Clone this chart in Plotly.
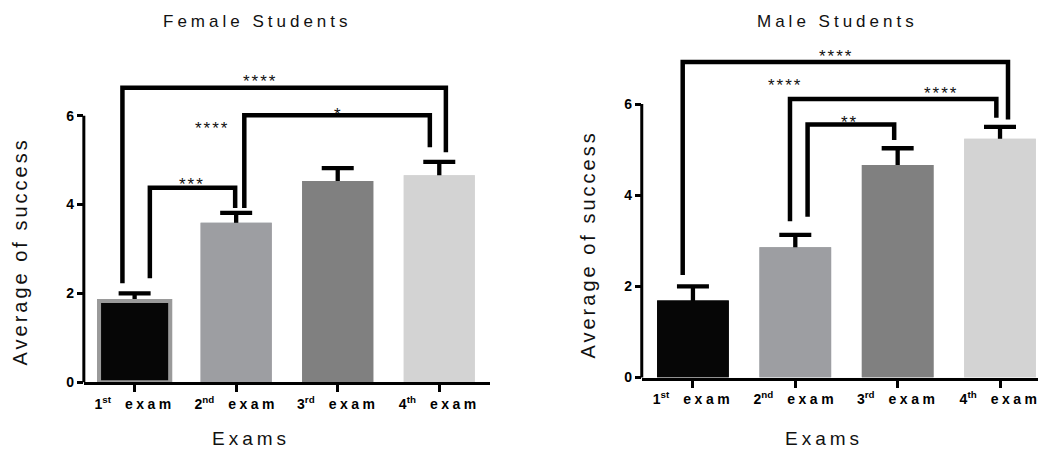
import plotly.graph_objects as go

# ---- data -------------------------------------------------------------
exam_pos = [0, 1, 2, 3]
exam_ordinals = [("1", "st"), ("2", "nd"), ("3", "rd"), ("4", "th")]

female_mean = [1.83, 3.59, 4.53, 4.66]
female_sem = [0.17, 0.22, 0.29, 0.30]
male_mean = [1.69, 2.86, 4.66, 5.24]
male_sem = [0.31, 0.27, 0.37, 0.26]

bar_colors = ["#060606", "#9d9ea2", "#808080", "#d3d3d3"]
female_edge_colors = ["#9a9a9a", "#9d9ea2", "#808080", "#d3d3d3"]
female_edge_widths = [4, 0, 0, 0]

y_ticks = [0, 2, 4, 6]

# significance brackets: x_left, x_right, y_left_end, y_top, y_right_end
female_brackets = [
    (-0.12, 3.065, 2.23, 6.63, 5.18),
    (1.08, 2.907, 3.92, 6.01, 5.29),
    (0.15, 0.99, 2.34, 4.38, 3.92),
]
male_brackets = [
    (-0.10, 3.078, 2.25, 6.92, 5.66),
    (0.948, 2.964, 3.43, 6.11, 5.70),
    (1.12, 1.966, 3.53, 5.55, 5.21),
]
# significance labels: text, x (category units), y (axis units)
female_stars = [("****", 1.23, 6.86), ("****", 0.765, 5.80),
                ("*", 2.01, 6.11), ("***", 0.568, 4.55)]
male_stars = [("****", 1.40, 7.12), ("****", 0.90, 6.50),
              ("****", 2.42, 6.31), ("**", 1.53, 5.68)]

# ---- figure -----------------------------------------------------------
W, H = 1040, 455
FONT = "Liberation Sans, Arial, sans-serif"


def spaced(text, ls):
    return "<span style='letter-spacing:%spx'>%s</span>" % (ls, text)


exam_ticks = ["%s<sup>%s</sup>\u2003%s" % (n, suf, spaced("exam", 3.5))
              for n, suf in exam_ordinals]

fig = go.Figure()


def add_bars(means, sems, xa, ya, edge_colors, edge_widths):
    marker = dict(color=bar_colors,
                  line=dict(color=edge_colors, width=edge_widths))
    # SEM whiskers first, then the bars on top hide the lower half
    fig.add_trace(go.Bar(
        x=exam_pos, y=means, width=0.7, xaxis=xa, yaxis=ya, marker=marker,
        error_y=dict(type="data", array=sems, thickness=4.3, width=16,
                     color="black"),
        showlegend=False, hoverinfo="skip"))
    fig.add_trace(go.Bar(
        x=exam_pos, y=means, width=0.7, xaxis=xa, yaxis=ya, marker=marker,
        showlegend=False, hoverinfo="skip"))


add_bars(female_mean, female_sem, "x", "y",
         female_edge_colors, female_edge_widths)
add_bars(male_mean, male_sem, "x2", "y2", bar_colors, [0, 0, 0, 0])


def add_brackets(brackets, xa, ya):
    for xl, xr, yl, yt, yr in brackets:
        fig.add_trace(go.Scatter(
            x=[xl, xl, xr, xr], y=[yl, yt, yt, yr], mode="lines",
            xaxis=xa, yaxis=ya, line=dict(color="black", width=4.5),
            showlegend=False, hoverinfo="skip", cliponaxis=False))


add_brackets(female_brackets, "x", "y")
add_brackets(male_brackets, "x2", "y2")

annotations = []


def note(text, x, y, size, ls, xref="paper", yref="paper", angle=0,
         yshift=0):
    annotations.append(dict(
        text=spaced(text, ls), x=x, y=y, xref=xref, yref=yref,
        showarrow=False, xanchor="center", yanchor="middle",
        textangle=angle, yshift=yshift,
        font=dict(family=FONT, size=size, color="#111111")))


def px(xp, yp):
    return xp / W, 1 - yp / H


# panel titles and axis titles
note("Female Students", *px(258, 22), 17, 4)
note("Male Students", *px(839, 22), 17, 4)
note("Average of success", *px(21, 256), 20, 3, angle=-90)
note("Average of success", *px(589, 249), 20, 3, angle=-90)
note("Exams", *px(251, 446), 19, 4)
note("Exams", *px(826, 446), 19, 4)

for txt, xs, ys in female_stars:
    note(txt, xs, ys, 17, 2, xref="x", yref="y", yshift=-4)
for txt, xs, ys in male_stars:
    note(txt, xs, ys, 17, 2, xref="x2", yref="y2", yshift=-4)

# y axis lines only span 0..6
shapes = [
    dict(type="line", xref="x domain", yref="y", x0=0, x1=0, y0=-0.03, y1=6,
         line=dict(color="black", width=3)),
    dict(type="line", xref="x2 domain", yref="y2", x0=0, x1=0, y0=-0.03, y1=6,
         line=dict(color="black", width=3)),
]

tickfont = dict(family=FONT, size=14, color="black", weight="bold")
xcommon = dict(tickmode="array", tickvals=exam_pos, ticktext=exam_ticks,
               ticks="outside", ticklen=7, tickwidth=3, tickcolor="black",
               showline=True, linewidth=3, linecolor="black", showgrid=False,
               zeroline=False, tickfont=tickfont, fixedrange=True,
               ticklabeloverflow="allow")
ycommon = dict(tickmode="array", tickvals=y_ticks, ticks="outside",
               ticklen=6, tickwidth=3, tickcolor="black", showline=False,
               showgrid=False, zeroline=False, tickfont=tickfont,
               fixedrange=True)

fig.update_layout(
    width=W, height=H, margin=dict(l=0, r=0, t=0, b=0),
    paper_bgcolor="white", plot_bgcolor="white", barmode="overlay",
    xaxis=dict(domain=[84 / W, 491 / W], range=[-0.5, 3.5], anchor="y",
               **xcommon),
    yaxis=dict(domain=[66 / H, 425 / H], range=[0, 359 / 45.2], anchor="x",
               **ycommon),
    xaxis2=dict(domain=[643 / W, 1.0], range=[-0.5, 3.371], anchor="y2",
                **xcommon),
    yaxis2=dict(domain=[70.7 / H, 425 / H], range=[0, 354.3 / 46.4],
                anchor="x2", **ycommon),
    annotations=annotations, shapes=shapes,
)

fig.write_html("out.html", config={"displayModeBar": False})
